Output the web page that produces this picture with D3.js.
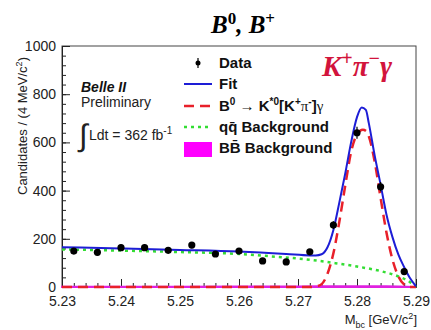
<!DOCTYPE html>
<html lang="en">
<head>
    <title>Mbc fit</title>
    <script src="https://d3js.org/d3.v7.min.js"></script>
    <style>
        body { margin: 0; background: #fff; }
        svg { font-family: "Liberation Sans", Arial, sans-serif; }
    </style>
</head>
<body>
<svg id="chart"></svg>
<script>
    // data points (bin centres, 4 MeV bins)
    var binCenters = [5.232, 5.236, 5.240, 5.244, 5.248, 5.252, 5.256, 5.260, 5.264, 5.268, 5.272, 5.276, 5.280, 5.284, 5.288];
    var counts = [149, 144, 163, 163, 152, 174, 137, 149, 108, 104, 146, 257, 640, 416, 64];
    var errors = [12, 12, 13, 13, 12, 13, 12, 12, 10, 10, 12, 16, 25, 20, 8];

    // total fit (blue)
    var fitX = [5.230, 5.240, 5.250, 5.260, 5.268, 5.272, 5.273, 5.274, 5.275, 5.276, 5.277, 5.278, 5.279, 5.280, 5.2808, 5.2815, 5.282, 5.283, 5.284, 5.285, 5.286, 5.287, 5.288, 5.289, 5.290];
    var fitY = [165, 160, 154, 147, 137, 131, 131, 136, 165, 237, 350, 470, 600, 705, 745, 735, 680, 545, 425, 300, 208, 135, 82, 36, 3];

    // signal B0 -> K*0 gamma (red dashed)
    var sigX = [5.230, 5.272, 5.273, 5.274, 5.275, 5.276, 5.277, 5.278, 5.279, 5.280, 5.2805, 5.281, 5.2815, 5.282, 5.283, 5.284, 5.285, 5.286, 5.287, 5.288, 5.289, 5.290];
    var sigY = [0, 0, 2, 12, 55, 140, 270, 420, 560, 635, 648, 652, 648, 625, 520, 370, 225, 115, 45, 10, 0, 0];

    // continuum qq background (green dotted)
    var qqX = [5.230, 5.240, 5.250, 5.260, 5.265, 5.2724, 5.276, 5.280, 5.284, 5.287, 5.289, 5.290];
    var qqY = [156, 151, 145, 137, 128, 112, 100, 85, 66, 44, 20, 0];

    // BB background (magenta)
    var bbX = [5.230, 5.250, 5.270, 5.285, 5.290];
    var bbY = [1, 1.5, 2.5, 3, 0];

    var xTicks = [5.23, 5.24, 5.25, 5.26, 5.27, 5.28, 5.29];
    var yTicks = [0, 200, 400, 600, 800, 1000];

    var width = 431, height = 330;
    var margins = { left: 62, top: 46, right: 15, bottom: 43 };

    var svg = d3.select("#chart").attr("width", width).attr("height", height);

    var xscale = d3.scaleLinear().domain([5.23, 5.29]).range([margins.left, width - margins.right]);
    var yscale = d3.scaleLinear().domain([0, 1000]).range([height - margins.bottom, margins.top]);

    // frame
    svg.append("rect")
        .attr("x", margins.left).attr("y", margins.top)
        .attr("width", width - margins.left - margins.right)
        .attr("height", height - margins.top - margins.bottom)
        .attr("fill", "none").attr("stroke", "#444").attr("stroke-width", 1);

    // axes, ticks pointing inward
    var xMinor = d3.range(5.23, 5.2901, 0.002);
    var yMinor = d3.range(0, 1001, 40);

    svg.append("g")
        .attr("transform", "translate(0," + yscale(0) + ")")
        .call(d3.axisBottom(xscale).tickValues(xMinor).tickFormat("").tickSize(-4))
        .call(function (g) { g.select(".domain").remove(); });
    svg.append("g")
        .attr("transform", "translate(0," + yscale(0) + ")")
        .call(d3.axisBottom(xscale).tickValues(xTicks)
            .tickFormat(d3.format(".2f")).tickSize(-8).tickPadding(9));

    svg.append("g")
        .attr("transform", "translate(" + xscale(5.23) + ",0)")
        .call(d3.axisLeft(yscale).tickValues(yMinor).tickFormat("").tickSize(-4))
        .call(function (g) { g.select(".domain").remove(); });
    svg.append("g")
        .attr("transform", "translate(" + xscale(5.23) + ",0)")
        .call(d3.axisLeft(yscale).tickValues(yTicks).tickFormat(d3.format("d")).tickSize(-8).tickPadding(6));

    svg.selectAll(".tick line").attr("stroke", "#222");
    svg.selectAll(".domain").attr("stroke", "#222");
    svg.selectAll(".tick text").attr("font-size", 14).attr("fill", "#222")
        .attr("font-family", "Liberation Sans, Arial, sans-serif");

    // curves
    var line = d3.line().x(function (d) { return xscale(d[0]); }).y(function (d) { return yscale(d[1]); })
        .curve(d3.curveMonotoneX);

    svg.append("path").datum(d3.zip(bbX, bbY))
        .attr("d", d3.area().x(function (d) { return xscale(d[0]); }).y0(yscale(0))
            .y1(function (d) { return yscale(d[1]); }).curve(d3.curveMonotoneX))
        .attr("fill", "#ff00ff").attr("stroke", "#e020e0").attr("stroke-width", 2);

    svg.append("path").datum(d3.zip(qqX, qqY))
        .attr("d", line).attr("fill", "none")
        .attr("stroke", "#33dd33").attr("stroke-width", 2.5).attr("stroke-dasharray", "3,4");

    svg.append("path").datum(d3.zip(sigX, sigY))
        .attr("d", line).attr("fill", "none")
        .attr("stroke", "#e8202a").attr("stroke-width", 2.5).attr("stroke-dasharray", "10,6");

    svg.append("path").datum(d3.zip(fitX, fitY))
        .attr("d", line).attr("fill", "none")
        .attr("stroke", "#1d1dd6").attr("stroke-width", 2);

    // data points
    var pts = svg.append("g").selectAll("g").data(d3.zip(binCenters, counts, errors)).enter().append("g");
    pts.append("line")
        .attr("x1", function (d) { return xscale(d[0]); }).attr("x2", function (d) { return xscale(d[0]); })
        .attr("y1", function (d) { return yscale(d[1] - d[2]); }).attr("y2", function (d) { return yscale(d[1] + d[2]); })
        .attr("stroke", "#000").attr("stroke-width", 1.2);
    pts.append("circle")
        .attr("cx", function (d) { return xscale(d[0]); }).attr("cy", function (d) { return yscale(d[1]); })
        .attr("r", 3.6).attr("fill", "#000");

    // title
    svg.append("text").attr("x", 243).attr("y", 33).attr("text-anchor", "middle")
        .attr("font-family", "Liberation Serif, Times New Roman, serif")
        .attr("font-weight", "bold").attr("font-style", "italic").attr("font-size", 25)
        .html('B<tspan dy="-9" font-size="17" font-style="normal">0</tspan><tspan dy="9">, B</tspan><tspan dy="-9" font-size="17" font-style="normal">+</tspan>');

    // channel label
    svg.append("text").attr("x", 322).attr("y", 76)
        .attr("font-family", "Liberation Serif, Times New Roman, serif")
        .attr("font-weight", "bold").attr("font-style", "italic").attr("font-size", 29)
        .attr("fill", "#d2143c")
        .html('K<tspan dy="-11" font-size="20" font-style="normal">+</tspan><tspan dy="11">π</tspan><tspan dy="-11" font-size="20" font-style="normal">−</tspan><tspan dy="11">γ</tspan>');

    // Belle II block
    svg.append("text").attr("x", 81).attr("y", 92).attr("font-size", 14)
        .attr("font-weight", "bold").attr("font-style", "italic").attr("fill", "#111").text("Belle II");
    svg.append("text").attr("x", 81).attr("y", 107).attr("font-size", 14).attr("fill", "#222").text("Preliminary");
    svg.append("text").attr("x", 79).attr("y", 146).attr("font-size", 31)
        .attr("font-family", "DejaVu Sans, sans-serif").attr("font-weight", 200).attr("fill", "#222").text("∫");
    svg.append("text").attr("x", 89).attr("y", 140).attr("font-size", 14).attr("fill", "#222")
        .html('Ldt = 362 fb<tspan dy="-6" font-size="10">-1</tspan>');

    // legend
    var lx1 = 184, lx2 = 212, tx = 219;
    var leg = svg.append("g").attr("font-size", 15).attr("font-weight", "bold").attr("fill", "#111");
    leg.append("line").attr("x1", 198).attr("x2", 198).attr("y1", 58).attr("y2", 68).attr("stroke", "#000").attr("stroke-width", 1.2);
    leg.append("circle").attr("cx", 198).attr("cy", 63).attr("r", 2.5).attr("fill", "#000");
    leg.append("text").attr("x", tx).attr("y", 68).text("Data");

    leg.append("line").attr("x1", lx1).attr("x2", lx2).attr("y1", 84).attr("y2", 84).attr("stroke", "#1d1dd6").attr("stroke-width", 2);
    leg.append("text").attr("x", tx).attr("y", 89).text("Fit");

    leg.append("line").attr("x1", lx1).attr("x2", lx2).attr("y1", 106).attr("y2", 106)
        .attr("stroke", "#e8202a").attr("stroke-width", 2.5).attr("stroke-dasharray", "10,6");
    leg.append("text").attr("x", tx).attr("y", 111)
        .html('B<tspan dy="-6" font-size="10">0</tspan><tspan dy="6" font-weight="normal"> → </tspan>K<tspan dy="-6" font-size="10">*0</tspan><tspan dy="6">[K</tspan><tspan dy="-6" font-size="10">+</tspan><tspan dy="6" font-family="Liberation Serif, serif" font-weight="normal">π</tspan><tspan dy="-6" font-size="10">-</tspan><tspan dy="6">]</tspan><tspan font-family="Liberation Serif, serif" font-weight="normal">γ</tspan>');

    leg.append("line").attr("x1", lx1).attr("x2", lx2).attr("y1", 127).attr("y2", 127)
        .attr("stroke", "#33dd33").attr("stroke-width", 2.5).attr("stroke-dasharray", "3,4");
    leg.append("text").attr("x", tx).attr("y", 132).text("q\u0071\u0304 Background");

    leg.append("rect").attr("x", lx1).attr("y", 142).attr("width", lx2 - lx1).attr("height", 15).attr("fill", "#ff00ff");
    leg.append("text").attr("x", tx).attr("y", 153).text("B\u0042\u0304 Background");

    // axis titles
    svg.append("text").attr("transform", "translate(27,195) rotate(-90)")
        .attr("font-size", 13).attr("fill", "#222")
        .html('Candidates / (4 MeV/c<tspan dy="-5" font-size="9">2</tspan><tspan dy="5">)</tspan>');
    svg.append("text").attr("x", 417).attr("y", 324).attr("text-anchor", "end")
        .attr("font-size", 13).attr("fill", "#222")
        .html('M<tspan dy="4" font-size="9">bc</tspan><tspan dy="-4"> [GeV/c</tspan><tspan dy="-5" font-size="9">2</tspan><tspan dy="5">]</tspan>');
</script>
</body>
</html>
